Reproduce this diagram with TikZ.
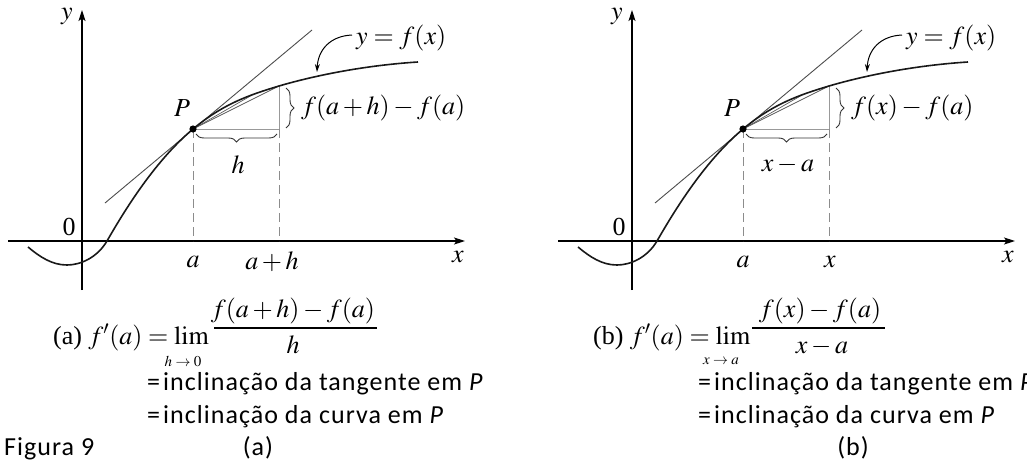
\documentclass[tikz,border=0pt]{standalone}
\usepackage{mathptmx}
\usepackage{fontspec}
\setmainfont{Liberation Serif}
\newfontfamily\calib{Carlito}
\usetikzlibrary{arrows.meta,decorations.pathreplacing}

% #1 suffix, #2 xshift, #3 label under second tick, #4 its x, #5 vertical difference label, #6 horizontal difference label
\newcommand\mypanel[6]{%
\begin{scope}[xshift=#2]
  \coordinate (XL#1) at (8,241);  \coordinate (XR#1) at (465,241);
  \coordinate (YB#1) at (82,290); \coordinate (YT#1) at (82,10);
  \coordinate (P#1) at (193,129);
  \coordinate (Q#1) at (279,86);
  \coordinate (R#1) at (279,129);
  \coordinate (A#1) at (193,241);
  \coordinate (B#1) at (279,241);
  \coordinate (T1#1) at (105,203); \coordinate (T2#1) at (312,30);
  \coordinate (S#1) at (253,94.5);
  \coordinate (H1#1) at (196,134); \coordinate (H2#1) at (277,134);
  \coordinate (V1#1) at (286,88);  \coordinate (V2#1) at (286,128);
  \coordinate (W1#1) at (352,35);  \coordinate (W2#1) at (317,72);
  % axes
  \draw[axis] (XL#1) -- (XR#1);
  \draw[axis] (YB#1) -- (YT#1);
  % guides
  \draw[guide] (P#1) -- (R#1) -- (Q#1);
  \draw[dashln] (P#1) -- (A#1);
  \draw[dashln] (R#1) -- (B#1);
  % tangent and secants
  \draw[tang] (T1#1) -- (T2#1);
  \draw[sec] (P#1) -- (Q#1);
  \draw[sec] (P#1) -- (S#1);
  % curve
  \draw[fcurve] (28,247) .. controls (40,257) and (52,265) .. (67,265)
     .. controls (80,265) and (97,258) .. (107,241)
     .. controls (122,215) and (153,162.6) .. (P#1)
     .. controls (223,104) and (249,95) .. (Q#1)
     .. controls (320,74) and (370,65) .. (418,62);
  \fill (P#1) circle (3.6);
  % braces
  \draw[brc, decoration={mirror}] (H1#1) -- (H2#1);
  \draw[brc] (V1#1) -- (V2#1);
  % pointer to curve
  \draw[ptr] (W1#1) .. controls (330,36) and (318,50) .. (W2#1);
  % labels
  \node[lbl] (ylab#1) at (67,17) {$y$};
  \node[lbl] (xlab#1) at (458,257) {$x$};
  \node[lbl] (zero#1) at (69,227) {0};
  \node[lbl] (Plab#1) at (182,108) {$P$};
  \node[lbl] (alab#1) at (193,262) {$a$};
  \node[lbl] (blab#1) at (#4,262) {$#3$};
  \node[lbl, anchor=west] (dlab#1) at (301,108) {$#5$};
  \node[lbl] (hlab#1) at (238,165) {$#6$};
  \node[lbl, anchor=west] (flab#1) at (356,38) {$y = f(x)$};
\end{scope}}

\begin{document}
\begin{tikzpicture}[x=1pt,y=-1pt,
  axis/.style={line width=1.1pt, -{Stealth[length=11pt,width=7pt,inset=2.5pt]}},
  fcurve/.style={line width=1.6pt, black!90},
  tang/.style={line width=0.9pt, black!70},
  sec/.style={line width=0.7pt, black!65},
  guide/.style={line width=0.8pt, black!40},
  dashln/.style={line width=0.8pt, black!45, dash pattern=on 9pt off 5pt},
  brc/.style={decorate, decoration={brace, amplitude=8pt}, line width=0.9pt, black!80},
  ptr/.style={line width=1pt, -{Stealth[length=8pt,width=5pt]}},
  lbl/.style={font=\fontsize{26}{30}\selectfont, inner sep=0pt},
  sub/.style={font=\fontsize{15}{18}\selectfont, inner sep=0pt},
  fracbar/.style={line width=1.3pt},
  captxt/.style={font=\calib\fontsize{26}{30}\selectfont\addfontfeature{LetterSpace=4}, inner sep=0pt, anchor=base west}]
\useasboundingbox (0,0) rectangle (1027,463);
\clip (0,0) rectangle (1027,463);

\mypanel{a}{0pt}{a + h}{272}{f(a+h)-f(a)}{h}
\mypanel{b}{550pt}{x}{280}{f(x)-f(a)}{x-a}

% formula (a)
\node[lbl, anchor=base west] (fa) at (53,344) {(a) $f'(a) = \lim$};
\node[sub] (sa) at (183,361) {$h\to 0$};
\node[lbl, anchor=base] (na) at (293,317) {$f(a+h)-f(a)$};
\coordinate (bal) at (214,328); \coordinate (bar) at (377,328);
\draw[fracbar] (bal) -- (bar);
\node[lbl, anchor=base] (da) at (293,353) {$h$};

% formula (b)
\node[lbl, anchor=base west] (fb) at (593,344) {(b) $f'(a) = \lim$};
\node[sub] (sb) at (721,361) {$x\to a$};
\node[lbl, anchor=base] (nb) at (820,317) {$f(x)-f(a)$};
\coordinate (bbl) at (752,328); \coordinate (bbr) at (885,328);
\draw[fracbar] (bbl) -- (bbr);
\node[lbl, anchor=base] (db) at (822,353) {$x-a$};

% captions
\node[captxt] (c1a) at (147,390) {=\hspace{3pt}inclinação da tangente em \textit{P}};
\node[captxt] (c2a) at (147,423) {=\hspace{3pt}inclinação da curva em \textit{P}};
\node[captxt, anchor=base] (pa) at (258,455) {(a)};
\node[captxt] (fig) at (4,455) {Figura 9};
\node[captxt] (c1b) at (698,390) {=\hspace{3pt}inclinação da tangente em \textit{P}};
\node[captxt] (c2b) at (698,423) {=\hspace{3pt}inclinação da curva em \textit{P}};
\node[captxt, anchor=base] (pb) at (853,455) {(b)};
\end{tikzpicture}
\end{document}
